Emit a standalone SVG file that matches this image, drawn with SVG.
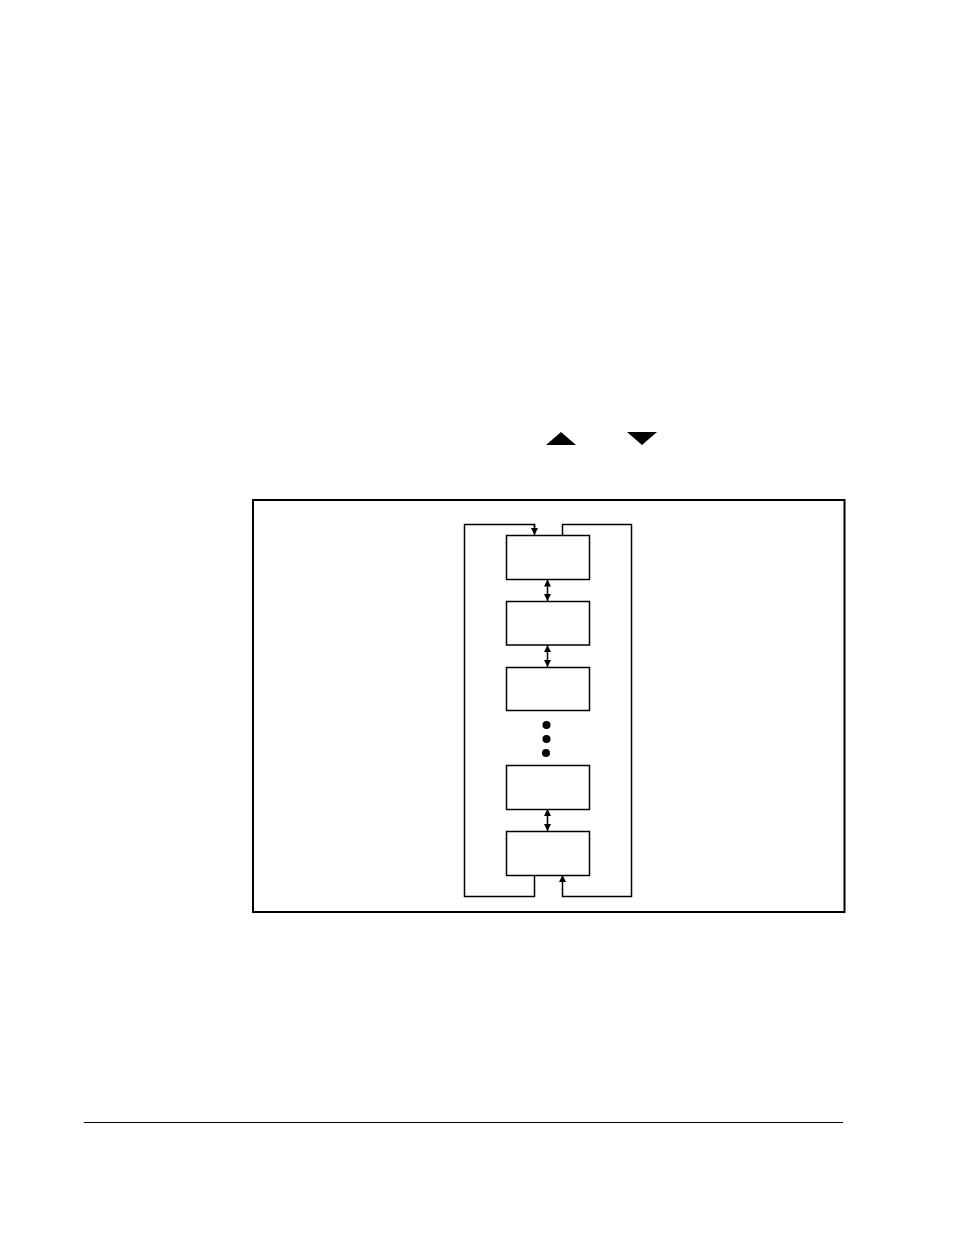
<svg xmlns="http://www.w3.org/2000/svg" width="954" height="1235" viewBox="0 0 954 1235">
<defs>
<marker id="ah" viewBox="0 0 10 10" refX="10" refY="5" markerWidth="7" markerHeight="7" markerUnits="userSpaceOnUse" orient="auto-start-reverse">
<path d="M0,0 L10,5 L0,10 z" fill="#000"/>
</marker>
<style>
.box{fill:#fff;stroke:#000;stroke-width:1.5}
.ln{fill:none;stroke:#000;stroke-width:1.5}
</style>
</defs>
<rect width="954" height="1235" fill="#fff"/>
<polygon points="546,445 561,432 576,445" fill="#000"/>
<polygon points="627,432 657,432 642,445" fill="#000"/>
<rect x="253" y="500" width="591.5" height="412" fill="none" stroke="#000" stroke-width="2"/>
<g id="connectors">
<polyline class="ln" points="534.5,527 534.5,524.5 464.5,524.5 464.5,896.5 534.5,896.5 534.5,875" />
<line class="ln" x1="534.5" y1="524.5" x2="534.5" y2="535" marker-end="url(#ah)"/>
<polyline class="ln" points="562.5,535 562.5,524.5 631.5,524.5 631.5,896.5 562.5,896.5 562.5,875" marker-end="url(#ah)"/>
<line class="ln" x1="547.5" y1="579.5" x2="547.5" y2="601" marker-start="url(#ah)" marker-end="url(#ah)"/>
<line class="ln" x1="547.5" y1="645" x2="547.5" y2="667" marker-start="url(#ah)" marker-end="url(#ah)"/>
<line class="ln" x1="547.5" y1="809" x2="547.5" y2="831" marker-start="url(#ah)" marker-end="url(#ah)"/>
</g>
<g id="n1"><rect class="box" x="506.5" y="535.5" width="83" height="44"/></g>
<g id="n2"><rect class="box" x="506.5" y="601.5" width="83" height="43.5"/></g>
<g id="n3"><rect class="box" x="506.5" y="667.5" width="83" height="43"/></g>
<g id="dots">
<circle cx="546.5" cy="725" r="4"/>
<circle cx="546.5" cy="739" r="4"/>
<circle cx="546" cy="753" r="4"/>
</g>
<g id="n4"><rect class="box" x="506.5" y="765.5" width="83" height="44"/></g>
<g id="n5"><rect class="box" x="506.5" y="831.5" width="83" height="44"/></g>
<line x1="84" y1="1122.5" x2="843" y2="1122.5" stroke="#000" stroke-width="1"/>
</svg>
